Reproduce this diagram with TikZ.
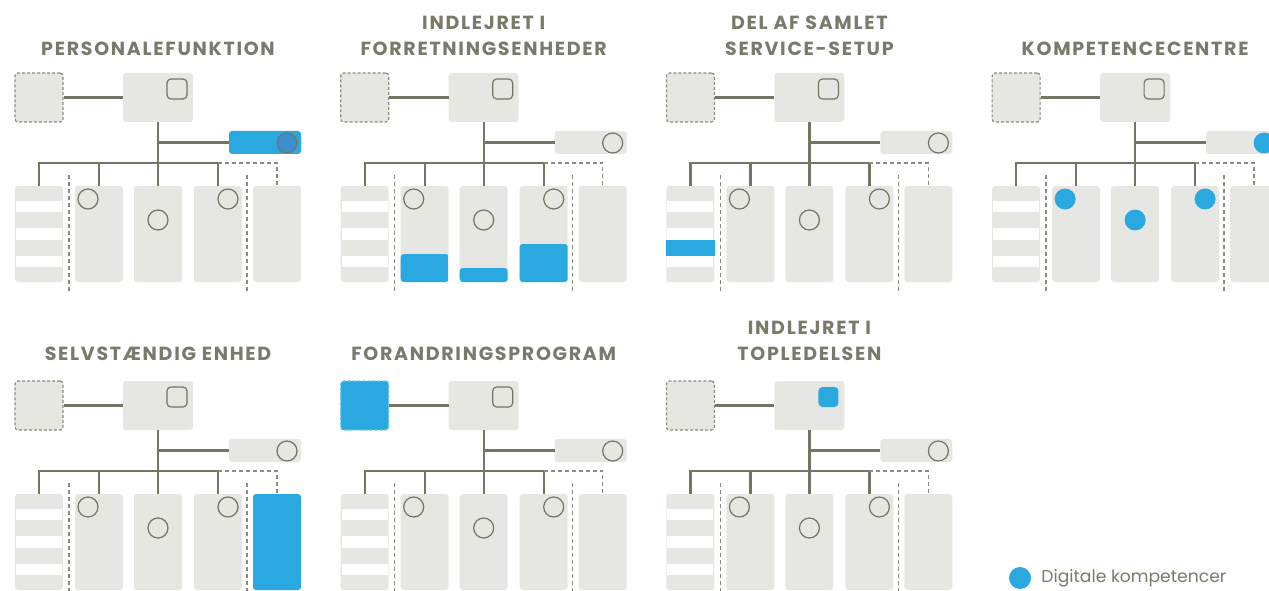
\documentclass[tikz,border=0pt]{standalone}
\usepackage{fontspec}
\setmainfont{Poppins}
\newfontfamily\titlefont[LetterSpace=9]{Poppins}
\usetikzlibrary{positioning,calc}

\definecolor{boxgray}{RGB}{230,230,226}
\definecolor{linegray}{RGB}{118,116,100}
\definecolor{dashgray}{RGB}{140,139,128}
\definecolor{titlegray}{RGB}{122,121,106}
\definecolor{digiblue}{RGB}{41,169,224}
\definecolor{darkblue}{RGB}{58,142,206}
\definecolor{paleblue}{RGB}{110,195,235}

\begin{document}
\begin{tikzpicture}[
    x=1pt, y=-1pt,
    box/.style={rectangle, fill=boxgray, rounded corners=3pt, inner sep=0pt},
    link/.style={draw=linegray, line width=2.2pt},
    dashline/.style={draw=dashgray, line width=1.3pt, dash pattern=on 4pt off 3pt},
    ring/.style={circle, draw=linegray, line width=1.2pt, minimum size=20pt, inner sep=0pt},
    filled/.style={fill=digiblue, draw=none, minimum size=21pt},
    title/.style={text=titlegray, font=\titlefont\bfseries\fontsize{19}{26.5}\selectfont,
                  align=center, anchor=south, inner sep=0pt},
    level/.style={path picture={\fill[digiblue]
        ([yshift=#1]path picture bounding box.south west)
        rectangle (path picture bounding box.south east);}},
    xbox/.style={}, ibox/.style={}, sbox/.style={}, sdot/.style={}, kdot/.style={},
    col1/.style={}, col2/.style={}, col3/.style={}, col4/.style={}, col5/.style={},
    pics/orgchart/.style={code={
        \node[box, draw=dashgray, line width=1.2pt, dash pattern=on 3pt off 2pt,
              minimum width=48pt, minimum height=49pt, xbox] (-ext) at (39,97.5) {};
        \node[box, minimum width=70pt, minimum height=49pt] (-top) at (158,97.5) {};
        \node[box, draw=linegray, line width=1.2pt, rounded corners=4pt,
              minimum size=20pt, ibox] (-icon) at (177,89) {};
        \node[box, minimum width=72pt, minimum height=23pt, sbox] (-side) at (265,142.5) {};
        \node[ring, sdot] (-sd) at (287,143) {};
        \coordinate (-bus) at (158,163);
        \foreach \i/\x in {1/39,2/99,3/158,4/218,5/277}
            \node[box, minimum width=48pt, minimum height=96pt, col\i] (-c\i) at (\x,234) {};
        \foreach \a/\b in {201/212,228/240,256/267}
            \fill[white] (16,\a) rectangle (62,\b);
        \node[ring, kdot] (-k2) at (88,199) {};
        \node[ring, kdot] (-k3) at (158,220) {};
        \node[ring, kdot] (-k4) at (228,199) {};
        % connectors
        \draw[link] (-ext) -- (-top);
        \draw[link] (-top) -- (-c3);
        \draw[link] (-side) -- (-side -| -top);
        \draw[link] (-c1.north) |- (-c4 |- -bus) -- (-c4.north);
        \draw[link] (-c2.north) -- (-c2 |- -bus);
        \draw[dashline] (-c4 |- -bus) -| (-c5.north);
        \draw[dashline] (69,175) -- (69,293);
        \draw[dashline] (247,175) -- (247,293);
    }}
]
\useasboundingbox (0,0) rectangle (1269,591);
\clip (0,0) rectangle (1269,591);

% titles
\node[title] (t1) at (158,56) {PERSONALEFUNKTION};
\node[title] (t2) at (483.7,56) {INDLEJRET I\\FORRETNINGSENHEDER};
\node[title] (t3) at (809.4,56) {DEL AF SAMLET\\SERVICE-SETUP};
\node[title] (t4) at (1135.1,56) {KOMPETENCECENTRE};
\node[title] (t5) at (158,361) {SELVSTÆNDIG ENHED};
\node[title] (t6) at (483.7,361) {FORANDRINGSPROGRAM};
\node[title] (t7) at (809.4,361) {INDLEJRET I\\TOPLEDELSEN};

% the seven models
\pic[sbox/.style={fill=digiblue}, sdot/.style={fill=darkblue}] (p1) at (0,0) {orgchart};
\pic[col2/.style={level=28pt}, col3/.style={level=14pt}, col4/.style={level=38pt}]
    (p2) at (325.7,0) {orgchart};
\pic (p3) at (651.4,0) {orgchart};
\fill[digiblue] ($(p3-c1.north west)+(0,54)$) rectangle ($(p3-c1.north east)+(0,70)$);
\pic[sdot/.style={filled}, kdot/.style={filled}] (p4) at (977.1,0) {orgchart};
\pic[col5/.style={fill=digiblue}] (p5) at (0,308) {orgchart};
\pic[xbox/.style={fill=digiblue, draw=paleblue}] (p6) at (325.7,308) {orgchart};
\pic[ibox/.style={fill=digiblue, draw=none}] (p7) at (651.4,308) {orgchart};

% legend
\node[circle, fill=digiblue, minimum size=22pt, inner sep=0pt] (leg) at (1020,578) {};
\node[right=10pt of leg, inner sep=0pt, text=titlegray,
      font=\fontsize{17.2}{20}\selectfont] (legtxt) {Digitale kompetencer};
\end{tikzpicture}
\end{document}
